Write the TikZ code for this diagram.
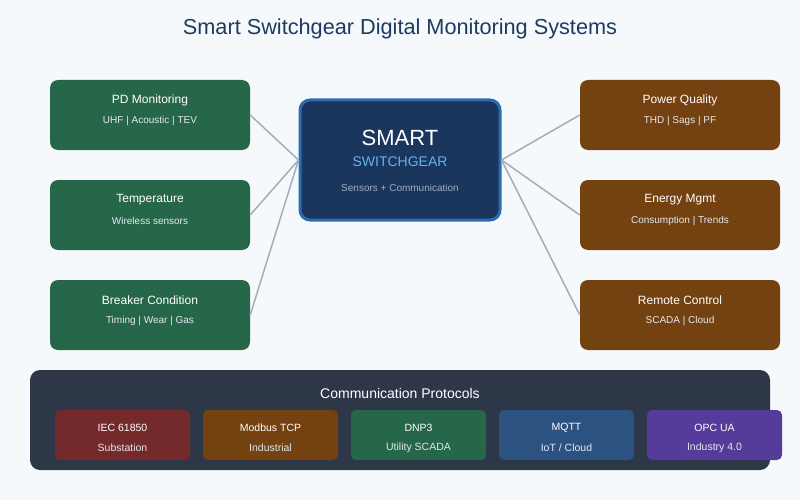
\documentclass[tikz,border=0pt]{standalone}
\usepackage{fontspec}
\setmainfont{Liberation Sans}
\usetikzlibrary{positioning,calc}
\definecolor{pagebg}{HTML}{F5F9FC}
\definecolor{titlenavy}{HTML}{1E3A5F}
\definecolor{sensorgreen}{HTML}{276749}
\definecolor{servicebrown}{HTML}{744210}
\definecolor{hubnavy}{HTML}{1A365D}
\definecolor{hubedge}{HTML}{2B6CB0}
\definecolor{hubcyan}{HTML}{63B3ED}
\definecolor{linkgrey}{HTML}{A0AEC0}
\definecolor{subgrey}{HTML}{E2E8F0}
\definecolor{panelslate}{HTML}{2D3748}
\definecolor{protored}{HTML}{742A2A}
\definecolor{protoblue}{HTML}{2C5282}
\definecolor{protopurple}{HTML}{553C9A}

\begin{document}
\begin{tikzpicture}[x=1pt,y=-1pt,
    card/.style={rounded corners=8pt,minimum width=200pt,minimum height=70pt,inner sep=0pt},
    sensorbox/.style={card,fill=sensorgreen},
    servicebox/.style={card,fill=servicebrown},
    protobox/.style={rounded corners=5pt,minimum width=135pt,minimum height=50pt,inner sep=0pt},
    cardtitle/.style={text=white,font=\fontsize{12}{14}\selectfont},
    cardsub/.style={text=subgrey,font=\fontsize{10}{12}\selectfont},
    protoname/.style={text=white,font=\fontsize{10.5}{12}\selectfont},
    protosub/.style={text=subgrey,font=\fontsize{10.5}{12}\selectfont},
    link/.style={draw=linkgrey,line width=1.5pt}]
  \fill[pagebg] (0,0) rectangle (800,500);
  \node[text=titlenavy,font=\fontsize{21.7}{26}\selectfont] (title) at (400,29)
    {Smart Switchgear Digital Monitoring Systems};

  % sensing side
  \node[sensorbox] (pd) at (150,115) {};
  \node[sensorbox] (temp) at (150,215) {};
  \node[sensorbox] (breaker) at (150,315) {};
  \node[cardtitle] (pdname) at (150,100) {PD Monitoring};
  \node[cardsub] (pdsub) at (150,121) {UHF | Acoustic | TEV};
  \node[cardtitle] (tempname) at (150,200) {Temperature};
  \node[cardsub] (tempsub) at (150,221) {Wireless sensors};
  \node[cardtitle] (brkname) at (150,300) {Breaker Condition};
  \node[cardsub] (brksub) at (150,321) {Timing | Wear | Gas};

  % service side
  \node[servicebox] (pq) at (680,115) {};
  \node[servicebox] (energy) at (680,215) {};
  \node[servicebox] (remote) at (680,315) {};
  \node[cardtitle] (pqname) at (680,100) {Power Quality};
  \node[cardsub] (pqsub) at (680,121) {THD | Sags | PF};
  \node[cardtitle] (enname) at (680,200) {Energy Mgmt};
  \node[cardsub] (ensub) at (680,221) {Consumption | Trends};
  \node[cardtitle] (remname) at (680,300) {Remote Control};
  \node[cardsub] (remsub) at (680,321) {SCADA | Cloud};

  % hub
  \node[fill=hubnavy,draw=hubedge,line width=3pt,rounded corners=10pt,
        minimum width=200pt,minimum height=120pt,inner sep=0pt] (hub) at (400,160) {};
  \node[text=white,font=\fontsize{22}{26}\selectfont] (hubname) at (400,138) {SMART};
  \node[text=hubcyan,font=\fontsize{14}{17}\selectfont] (hubsub) at (400,162) {SWITCHGEAR};
  \node[text=linkgrey,font=\fontsize{10}{12}\selectfont] (hubnote) at (400,188) {Sensors + Communication};

  \foreach \n in {pd,temp,breaker} \draw[link] (hub.west) -- (\n.east);
  \foreach \n in {pq,energy,remote} \draw[link] (hub.east) -- (\n.west);

  % protocols
  \node[fill=panelslate,rounded corners=10pt,minimum width=740pt,minimum height=100pt,
        inner sep=0pt] (panel) at (400,420) {};
  \node[text=white,font=\fontsize{14}{17}\selectfont] (paneltitle) at (400,393) {Communication Protocols};
  \foreach \x/\c/\a/\b [count=\i] in {122.5/protored/IEC 61850/Substation,
      270.5/servicebrown/Modbus TCP/Industrial,
      418.5/sensorgreen/DNP3/Utility SCADA,
      566.5/protoblue/MQTT/{IoT / Cloud},
      714.5/protopurple/OPC UA/Industry 4.0} {
    \node[protobox,fill=\c] (proto\i) at (\x,435) {};
    \node[protoname] (protoname\i) at (\x,428) {\a};
    \node[protosub] (protosub\i) at (\x,448) {\b};
  }
\end{tikzpicture}
\end{document}
